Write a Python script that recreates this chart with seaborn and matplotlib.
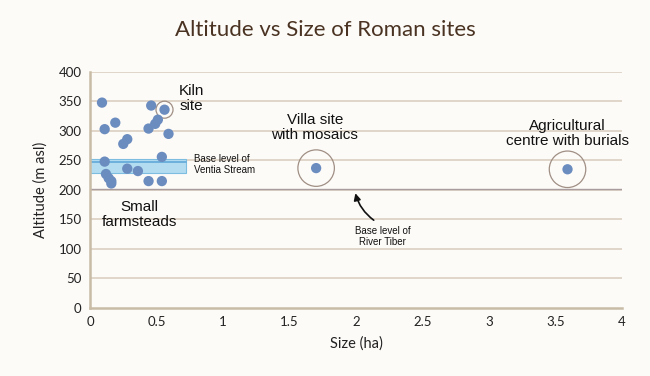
import matplotlib
matplotlib.use("Agg")
import matplotlib.pyplot as plt
import seaborn as sns
import pandas as pd

# small farmsteads + kiln (size ha, altitude m asl)
small_size = [0.09, 0.46, 0.56, 0.11, 0.19, 0.51, 0.49, 0.44, 0.59, 0.28, 0.25,
              0.11, 0.54, 0.12, 0.14, 0.16, 0.16, 0.28, 0.36, 0.44, 0.54]
small_alt = [348, 343, 336, 303, 314, 319, 312, 304, 295, 286, 278,
             248, 256, 227, 220, 215, 211, 236, 232, 215, 215]

# larger sites
big_names = ["Villa site", "Agricultural centre"]
big_size = [1.70, 3.59]
big_alt = [237, 235]

# circled sites
ring_size = [0.56, 1.70, 3.59]
ring_alt = [336, 237, 235]
ring_marker = [150, 690, 690]

ventia_band = (229, 253)
ventia_level = 248
tiber_level = 202

df = pd.DataFrame({"size": small_size + big_size, "alt": small_alt + big_alt})

sns.set_style("white")
plt.rcParams["font.family"] = ["Liberation Sans", "DejaVu Sans"]
bg = "#fdfbf8"
grid_c = "#ddd3c4"
pt_c = "#6b8cbf"

fig = plt.figure(figsize=(6.5, 3.76), dpi=100, facecolor=bg)
ax = fig.add_axes([0.1385, 0.181, 0.8185, 0.6277], facecolor=bg)

ax.set_xlim(0, 4)
ax.set_ylim(0, 400)
ax.set_yticks(range(0, 401, 50))
ax.set_xticks([0, 0.5, 1, 1.5, 2, 2.5, 3, 3.5, 4])
ax.set_xticklabels(["0", "0.5", "1", "1.5", "2", "2.5", "3", "3.5", "4"])
for v in range(50, 401, 50):
    ax.axhline(v, color=grid_c, lw=1.3, zorder=0)
for s in ["top", "right"]:
    ax.spines[s].set_visible(False)
for s in ["left", "bottom"]:
    ax.spines[s].set_color("#c9bca6")
    ax.spines[s].set_linewidth(1.8)
ax.tick_params(length=0, labelsize=9.5, colors="#222222", pad=6)
for lab in ax.get_xticklabels() + ax.get_yticklabels():
    lab.set_family("Lato")

# Ventia stream band and Tiber base level
ax.axhspan(*ventia_band, xmin=0, xmax=0.72 / 4, facecolor="#b3dcf1", edgecolor="#7cbde0",
           lw=0.8, zorder=1)
ax.axhline(ventia_level, xmin=0, xmax=0.72 / 4, color="#5aa5d6", lw=1.1, zorder=1)
ax.axhline(tiber_level, color="#a99c9e", lw=1.0, zorder=1)

sns.scatterplot(data=df, x="size", y="alt", ax=ax, s=55, color=pt_c,
                edgecolor="none", zorder=3, legend=False)
ax.scatter(ring_size, ring_alt, s=ring_marker, facecolors="none",
           edgecolors="#a08f84", linewidths=0.9, zorder=2)

ax.set_xlabel("Size (ha)", family="Lato", fontsize=10.5, color="#222222", labelpad=6)
ax.set_ylabel("Altitude (m asl)", family="Lato", fontsize=10.5, color="#222222", labelpad=8)
fig.text(0.5, 0.92, "Altitude vs Size of Roman sites", ha="center", va="center",
         family="Lato", fontsize=16, color="#4a3322")

txt = dict(ha="center", va="center", color="#111111")
ax.text(0.76, 355, "Kiln\nsite", fontsize=11, linespacing=1.1, **txt)
ax.text(0.37, 158, "Small\nfarmsteads", fontsize=11, linespacing=1.1, **txt)
ax.text(1.69, 306, "Villa site\nwith mosaics", fontsize=11, linespacing=1.1, **txt)
ax.text(3.59, 295, "Agricultural\ncentre with burials", fontsize=11, linespacing=1.1, **txt)
ax.text(0.78, 243, "Base level of\nVentia Stream", fontsize=7, ha="left", va="center",
        color="#111111", linespacing=1.15)
ax.text(2.2, 121, "Base level of\nRiver Tiber", fontsize=7, linespacing=1.15, **txt)
ax.annotate("", xy=(1.99, tiber_level - 3), xytext=(2.15, 146),
            arrowprops=dict(arrowstyle="-|>", color="#111111", lw=1.2,
                            connectionstyle="arc3,rad=-0.2", mutation_scale=10))

fig.savefig("out.png", dpi=100, facecolor=bg)
